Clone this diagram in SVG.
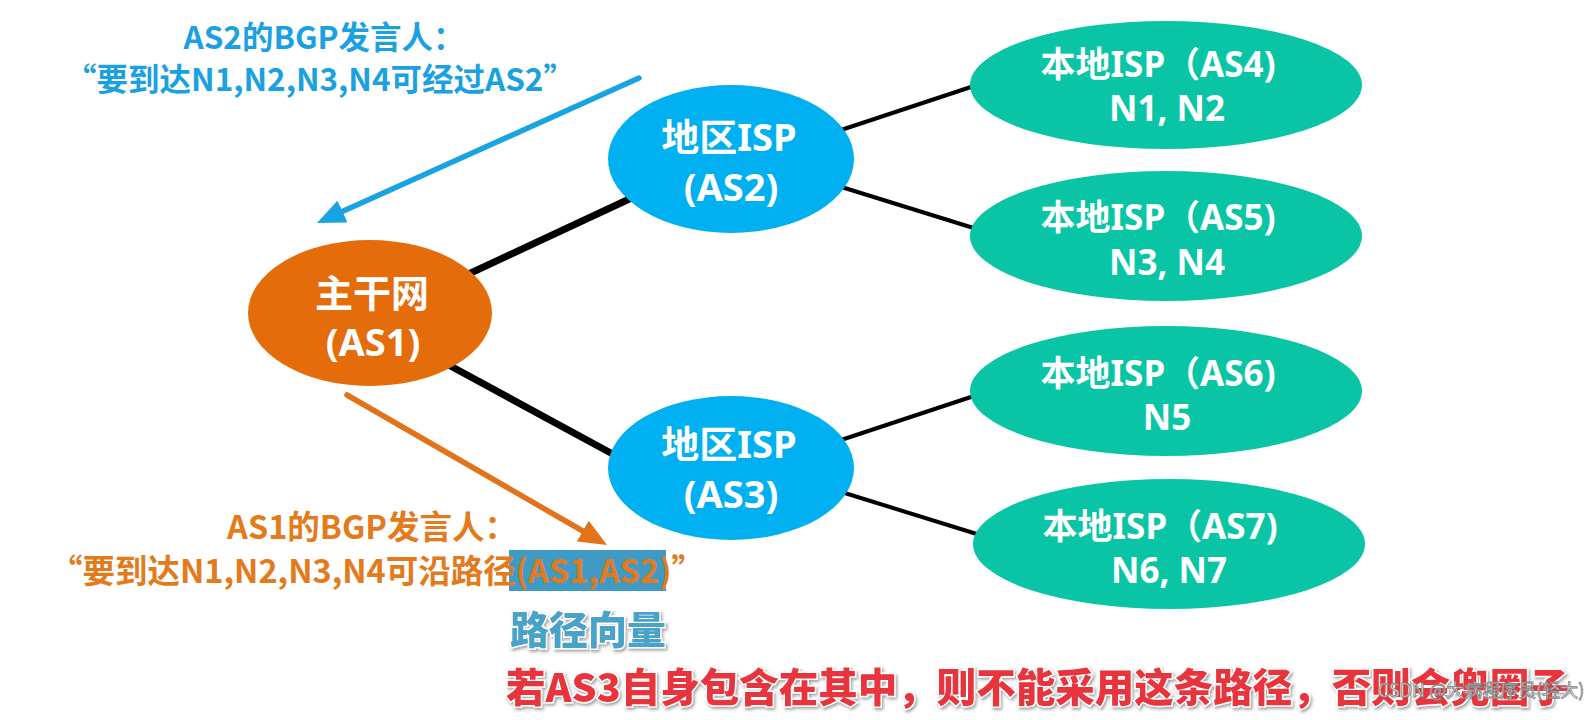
<svg xmlns="http://www.w3.org/2000/svg" width="1593" height="720" viewBox="0 0 1593 720">
<style>
text{font-family:"Noto Sans CJK SC","Noto Sans",sans-serif;font-weight:700}
.nt{fill:#ffffff;text-anchor:middle;font-size:38px;font-family:"Noto Sans","Noto Sans CJK SC",sans-serif}
.lt{fill:#ffffff;text-anchor:middle;font-size:35px;font-family:"Noto Sans","Noto Sans CJK SC",sans-serif}
.blue{fill:#1ba1e2;font-size:31.5px;text-anchor:middle}
.orange{fill:#e37a1c;font-size:32.5px}
.link{stroke:#000000;fill:none}
.thick{stroke-width:7}
.thin{stroke-width:4}
.reg{fill:#00b0f0}
.loc{fill:#0ac5a5}
.pv{fill:#4aa3c9;font-size:39px;font-weight:900;stroke:#ffffff;stroke-width:3;paint-order:stroke;filter:url(#sh)}
.warn{fill:#e8353d;font-size:39.5px;font-weight:900;stroke:#ffffff;stroke-width:3;paint-order:stroke;filter:url(#sh)}
.wm{fill:#f4f4f4;stroke:#7f7f7f;stroke-width:0.8;font-size:18px;font-weight:400}
</style>
<defs>
<filter id="sh" x="-5%" y="-20%" width="110%" height="150%">
<feDropShadow dx="1.5" dy="2" stdDeviation="1.5" flood-color="#666666" flood-opacity="0.6"/>
</filter>
<marker id="ah-blue" viewBox="0 0 28 24" markerWidth="28" markerHeight="24" refX="10" refY="12" orient="auto" markerUnits="userSpaceOnUse">
<path d="M0,0 L28,12 L0,24 z" fill="#18a4e0"/>
</marker>
<marker id="ah-orange" viewBox="0 0 28 24" markerWidth="28" markerHeight="24" refX="10" refY="12" orient="auto" markerUnits="userSpaceOnUse">
<path d="M0,0 L28,12 L0,24 z" fill="#e3731a"/>
</marker>
</defs>
<rect x="0" y="0" width="1593" height="720" fill="#ffffff"/>

<g id="connectors">
<line class="link thick" x1="460" y1="278" x2="640" y2="194"/>
<line class="link thick" x1="445" y1="363" x2="620" y2="458"/>
<line class="link thin" x1="835" y1="132" x2="980" y2="84"/>
<line class="link thin" x1="835" y1="185" x2="980" y2="230"/>
<line class="link thin" x1="835" y1="442" x2="980" y2="394"/>
<line class="link thin" x1="835" y1="490" x2="980" y2="535"/>
<line id="arrow-as2" x1="639" y1="78" x2="333.4" y2="215.6" stroke="#18a4e0" stroke-width="5.5" stroke-linecap="round" marker-end="url(#ah-blue)"/>
<line id="arrow-as1" x1="347" y1="395" x2="591.4" y2="536" stroke="#e3731a" stroke-width="5.5" stroke-linecap="round" marker-end="url(#ah-orange)"/>
</g>

<g id="as1">
<ellipse cx="370" cy="313" rx="122" ry="73" fill="#e46c0a"/>
<text class="nt" x="372" y="307">主干网</text>
<text class="nt" x="373" y="356">(AS1)</text>
</g>
<g id="as2">
<ellipse cx="731" cy="159" rx="123" ry="74" class="reg"/>
<text class="nt" x="729" y="151">地区ISP</text>
<text class="nt" x="731" y="201">(AS2)</text>
</g>
<g id="as3">
<ellipse cx="731" cy="468" rx="123" ry="72" class="reg"/>
<text class="nt" x="729" y="458">地区ISP</text>
<text class="nt" x="731" y="508">(AS3)</text>
</g>
<g id="as4">
<ellipse cx="1166" cy="85" rx="196" ry="64" class="loc"/>
<text class="lt" x="1158" y="77">本地ISP（AS4)</text>
<text class="lt" x="1167" y="121">N1, N2</text>
</g>
<g id="as5">
<ellipse cx="1166" cy="236" rx="196" ry="65" class="loc"/>
<text class="lt" x="1158" y="230">本地ISP（AS5)</text>
<text class="lt" x="1167" y="275">N3, N4</text>
</g>
<g id="as6">
<ellipse cx="1166" cy="391" rx="196" ry="65" class="loc"/>
<text class="lt" x="1158" y="386">本地ISP（AS6)</text>
<text class="lt" x="1167" y="430">N5</text>
</g>
<g id="as7">
<ellipse cx="1169" cy="544" rx="196" ry="65" class="loc"/>
<text class="lt" x="1160" y="539">本地ISP（AS7)</text>
<text class="lt" x="1169" y="583">N6, N7</text>
</g>

<g id="label-as2">
<text class="blue" x="324" y="49">AS2的BGP发言人：</text>
<text class="blue" x="320" y="91">“要到达N1,N2,N3,N4可经过AS2”</text>
</g>
<g id="label-as1">
<text class="orange" x="372" y="539" text-anchor="middle">AS1的BGP发言人：</text>
<rect x="509" y="550" width="157" height="41" fill="#3f9ac5"/>
<text class="orange" x="50" y="583">“要到达N1,N2,N3,N4可沿路径(AS1,AS2)”</text>
</g>
<g id="label-pv">
<text class="pv" x="510" y="644">路径向量</text>
</g>
<g id="label-warn">
<text class="warn" x="506" y="702">若AS3自身包含在其中，则不能采用这条路径，否则会兜圈子</text>
</g>
<text class="wm" x="1378" y="697">CSDN @大病程序员(轻大)</text>
</svg>
